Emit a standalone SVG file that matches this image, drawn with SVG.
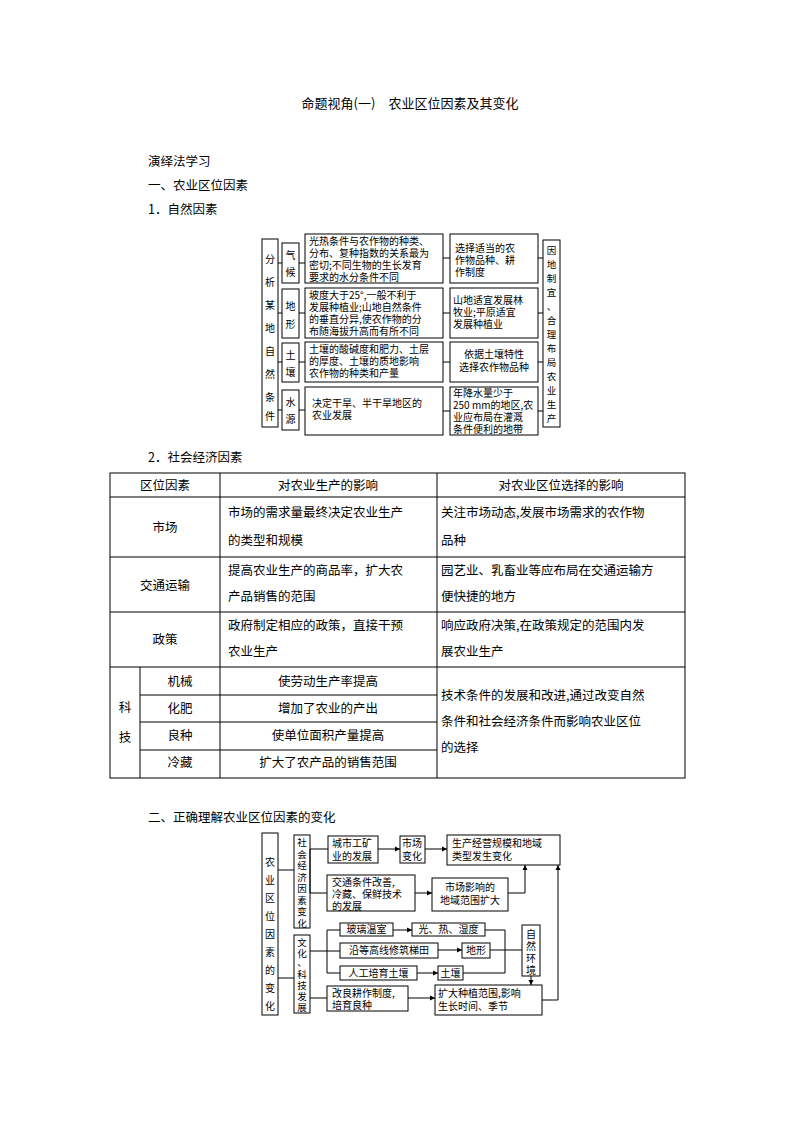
<svg xmlns="http://www.w3.org/2000/svg" width="794" height="1123" viewBox="0 0 794 1123">
<style>
text{font-family:"Noto Sans CJK SC","Noto Sans CJK JP",sans-serif;fill:#000}
.b{fill:#fff;stroke:#000;stroke-width:1}
.s{font-size:10px}
.v{font-size:9.5px}
.t{font-size:12.5px}
.l{stroke:#000;stroke-width:1;fill:none}
.a{stroke:#000;stroke-width:1;fill:none;marker-end:url(#ar)}
</style>
<defs><marker id="ar" markerWidth="6" markerHeight="6" refX="5" refY="3" orient="auto" markerUnits="userSpaceOnUse"><path d="M0,0.5 L5,3 L0,5.5Z" fill="#000"/></marker></defs>
<rect width="794" height="1123" fill="#fff"/>
<text x="410" y="108" text-anchor="middle" style="font-size:13px">命题视角(一)　农业区位因素及其变化</text>
<text x="148" y="166" class="t">演绎法学习</text>
<text x="148" y="190" class="t">一、农业区位因素</text>
<text x="148" y="214" class="t">1．自然因素</text>

<g id="d1">
<g id="d1-left"><rect class="b" x="262" y="239" width="16" height="188"/>
<text class="s" text-anchor="middle"><tspan x="270" y="263">分</tspan><tspan x="270" y="286">析</tspan><tspan x="270" y="309">某</tspan><tspan x="270" y="332">地</tspan><tspan x="270" y="355">自</tspan><tspan x="270" y="378">然</tspan><tspan x="270" y="401">条</tspan><tspan x="270" y="420">件</tspan></text></g>
<g id="d1-qh"><rect class="b" x="282" y="243" width="17" height="40"/><text class="s" text-anchor="middle"><tspan x="290.5" y="259">气</tspan><tspan x="290.5" y="276">候</tspan></text></g>
<g id="d1-dx"><rect class="b" x="282" y="289" width="17" height="49"/><text class="s" text-anchor="middle"><tspan x="290.5" y="310">地</tspan><tspan x="290.5" y="328">形</tspan></text></g>
<g id="d1-tr"><rect class="b" x="282" y="343" width="17" height="39"/><text class="s" text-anchor="middle"><tspan x="290.5" y="359">土</tspan><tspan x="290.5" y="376">壤</tspan></text></g>
<g id="d1-sy"><rect class="b" x="282" y="390" width="17" height="40"/><text class="s" text-anchor="middle"><tspan x="290.5" y="406">水</tspan><tspan x="290.5" y="423">源</tspan></text></g>
<g id="d1-m1"><rect class="b" x="305" y="234" width="138" height="49"/><text class="s"><tspan x="309" y="245">光热条件与农作物的种类、</tspan><tspan x="309" y="257">分布、复种指数的关系最为</tspan><tspan x="309" y="269">密切;不同生物的生长发育</tspan><tspan x="309" y="281">要求的水分条件不同</tspan></text></g>
<g id="d1-m2"><rect class="b" x="305" y="288" width="138" height="50"/><text class="s"><tspan x="309" y="299">坡度大于25°,一般不利于</tspan><tspan x="309" y="311">发展种植业;山地自然条件</tspan><tspan x="309" y="323">的垂直分异,使农作物的分</tspan><tspan x="309" y="335">布随海拔升高而有所不同</tspan></text></g>
<g id="d1-m3"><rect class="b" x="305" y="342" width="138" height="40"/><text class="s"><tspan x="309" y="353">土壤的酸碱度和肥力、土层</tspan><tspan x="309" y="365">的厚度、土壤的质地影响</tspan><tspan x="309" y="377">农作物的种类和产量</tspan></text></g>
<g id="d1-m4"><rect class="b" x="305" y="387" width="138" height="48"/><text class="s"><tspan x="312" y="407">决定干旱、半干旱地区的</tspan><tspan x="312" y="419">农业发展</tspan></text></g>
<g id="d1-r1"><rect class="b" x="450" y="234" width="88" height="49"/><text class="s"><tspan x="455" y="252">选择适当的农</tspan><tspan x="455" y="264">作物品种、耕</tspan><tspan x="455" y="276">作制度</tspan></text></g>
<g id="d1-r2"><rect class="b" x="450" y="288" width="88" height="50"/><text class="s"><tspan x="453" y="304">山地适宜发展林</tspan><tspan x="453" y="316">牧业;平原适宜</tspan><tspan x="453" y="328">发展种植业</tspan></text></g>
<g id="d1-r3"><rect class="b" x="450" y="342" width="88" height="40"/><text class="s" text-anchor="middle"><tspan x="494" y="358">依据土壤特性</tspan><tspan x="494" y="371">选择农作物品种</tspan></text></g>
<g id="d1-r4"><rect class="b" x="450" y="387" width="88" height="48"/><text class="s"><tspan x="453" y="397">年降水量少于</tspan><tspan x="453" y="409">250 mm的地区,农</tspan><tspan x="453" y="421">业应布局在灌溉</tspan><tspan x="453" y="433">条件便利的地带</tspan></text></g>
<g id="d1-right"><rect class="b" x="543" y="240" width="17" height="187"/>
<text class="v" text-anchor="middle"><tspan x="551.5" y="254">因</tspan><tspan x="551.5" y="268">地</tspan><tspan x="551.5" y="282">制</tspan><tspan x="551.5" y="296">宜</tspan><tspan x="551.5" y="310">、</tspan><tspan x="551.5" y="324">合</tspan><tspan x="551.5" y="338">理</tspan><tspan x="551.5" y="352">布</tspan><tspan x="551.5" y="366">局</tspan><tspan x="551.5" y="380">农</tspan><tspan x="551.5" y="394">业</tspan><tspan x="551.5" y="408">生</tspan><tspan x="551.5" y="422">产</tspan></text></g>
<g id="d1-conn">
<path class="l" d="M278,263H282M278,313H282M278,362H282M278,410H282M299,263H305M299,313H305M299,362H305M299,410H305M443,258H450M443,313H450M443,362H450M443,411H450M538,258H543M538,313H543M538,362H543M538,411H543"/>
</g>
</g>

<text x="148" y="462" class="t">2．社会经济因素</text>
<g id="table">
<rect x="110" y="473" width="575" height="305" fill="none" stroke="#000"/>
<path class="l" d="M110,497H685M110,557H685M110,612H685M110,667H685M220,473V778M437,473V778M140,667V778M140,695H437M140,722H437M140,750H437"/>
<g class="t">
<text x="165" y="490" text-anchor="middle">区位因素</text>
<text x="328" y="490" text-anchor="middle">对农业生产的影响</text>
<text x="561" y="490" text-anchor="middle">对农业区位选择的影响</text>
<text x="165" y="532" text-anchor="middle">市场</text>
<text x="228" y="517">市场的需求量最终决定农业生产</text><text x="228" y="545">的类型和规模</text>
<text x="441" y="517">关注市场动态,发展市场需求的农作物</text><text x="441" y="545">品种</text>
<text x="165" y="590" text-anchor="middle">交通运输</text>
<text x="228" y="575">提高农业生产的商品率，扩大农</text><text x="228" y="601">产品销售的范围</text>
<text x="441" y="575">园艺业、乳畜业等应布局在交通运输方</text><text x="441" y="601">便快捷的地方</text>
<text x="165" y="644" text-anchor="middle">政策</text>
<text x="228" y="630">政府制定相应的政策，直接干预</text><text x="228" y="656">农业生产</text>
<text x="441" y="630">响应政府决策,在政策规定的范围内发</text><text x="441" y="656">展农业生产</text>
<text x="125" y="712" text-anchor="middle">科</text><text x="125" y="742" text-anchor="middle">技</text>
<text x="180" y="686" text-anchor="middle">机械</text><text x="180" y="713" text-anchor="middle">化肥</text><text x="180" y="740" text-anchor="middle">良种</text><text x="180" y="767" text-anchor="middle">冷藏</text>
<text x="328" y="686" text-anchor="middle">使劳动生产率提高</text><text x="328" y="713" text-anchor="middle">增加了农业的产出</text><text x="328" y="740" text-anchor="middle">使单位面积产量提高</text><text x="328" y="767" text-anchor="middle">扩大了农产品的销售范围</text>
<text x="441" y="700">技术条件的发展和改进,通过改变自然</text><text x="441" y="726">条件和社会经济条件而影响农业区位</text><text x="441" y="752">的选择</text>
</g>
</g>

<text x="148" y="822" class="t">二、正确理解农业区位因素的变化</text>
<g id="d2">
<g id="n-left"><rect class="b" x="262" y="833" width="16" height="182"/><text class="s" text-anchor="middle"><tspan x="270" y="866">农</tspan><tspan x="270" y="884">业</tspan><tspan x="270" y="902">区</tspan><tspan x="270" y="920">位</tspan><tspan x="270" y="938">因</tspan><tspan x="270" y="956">素</tspan><tspan x="270" y="974">的</tspan><tspan x="270" y="992">变</tspan><tspan x="270" y="1010">化</tspan></text></g>
<g id="n-sh"><rect class="b" x="294" y="835" width="16" height="93"/><text class="v" text-anchor="middle"><tspan x="302" y="846">社</tspan><tspan x="302" y="857.5">会</tspan><tspan x="302" y="869">经</tspan><tspan x="302" y="880.5">济</tspan><tspan x="302" y="892">因</tspan><tspan x="302" y="903.5">素</tspan><tspan x="302" y="915">变</tspan><tspan x="302" y="926.5">化</tspan></text></g>
<g id="n-wh"><rect class="b" x="294" y="935" width="16" height="78"/><text class="v" text-anchor="middle"><tspan x="302" y="946">文</tspan><tspan x="302" y="957">化</tspan><tspan x="302" y="966">、</tspan><tspan x="302" y="978">科</tspan><tspan x="302" y="989">技</tspan><tspan x="302" y="1000">发</tspan><tspan x="302" y="1011">展</tspan></text></g>
<g id="n-cs"><rect class="b" x="328" y="836" width="50" height="27"/><text class="s"><tspan x="332" y="847">城市工矿</tspan><tspan x="332" y="860">业的发展</tspan></text></g>
<g id="n-sc"><rect class="b" x="400" y="836" width="25" height="27"/><text class="s"><tspan x="402" y="847">市场</tspan><tspan x="402" y="860">变化</tspan></text></g>
<g id="n-scjy"><rect class="b" x="447" y="835" width="113" height="30"/><text class="s"><tspan x="452" y="847">生产经营规模和地域</tspan><tspan x="452" y="860">类型发生变化</tspan></text></g>
<g id="n-jt"><rect class="b" x="327" y="875" width="88" height="36"/><text class="s"><tspan x="332" y="886">交通条件改善,</tspan><tspan x="332" y="898">冷藏、保鲜技术</tspan><tspan x="332" y="910">的发展</tspan></text></g>
<g id="n-scyx"><rect class="b" x="432" y="878" width="76" height="33"/><text class="s" text-anchor="middle"><tspan x="470" y="891">市场影响的</tspan><tspan x="470" y="904">地域范围扩大</tspan></text></g>
<g id="n-bl"><rect class="b" x="340" y="923" width="53" height="13"/><text class="s" x="366.5" y="933" text-anchor="middle">玻璃温室</text></g>
<g id="n-g"><rect class="b" x="412" y="923" width="73" height="13"/><text class="s" x="448.5" y="933" text-anchor="middle">光、热、湿度</text></g>
<g id="n-yd"><rect class="b" x="340" y="943" width="98" height="15"/><text class="s" x="389" y="954" text-anchor="middle">沿等高线修筑梯田</text></g>
<g id="n-dx"><rect class="b" x="462" y="943" width="28" height="15"/><text class="s" x="476" y="954" text-anchor="middle">地形</text></g>
<g id="n-rg"><rect class="b" x="340" y="966" width="77" height="14"/><text class="s" x="378.5" y="977" text-anchor="middle">人工培育土壤</text></g>
<g id="n-tr"><rect class="b" x="438" y="966" width="25" height="14"/><text class="s" x="450.5" y="977" text-anchor="middle">土壤</text></g>
<g id="n-zr"><rect class="b" x="522" y="925" width="18" height="51"/><text class="s" text-anchor="middle"><tspan x="531" y="938">自</tspan><tspan x="531" y="950">然</tspan><tspan x="531" y="962">环</tspan><tspan x="531" y="974">境</tspan></text></g>
<g id="n-gl"><rect class="b" x="327" y="986" width="81" height="25"/><text class="s"><tspan x="332" y="997">改良耕作制度,</tspan><tspan x="332" y="1009">培育良种</tspan></text></g>
<g id="n-kd"><rect class="b" x="435" y="985" width="107" height="30"/><text class="s"><tspan x="438" y="997">扩大种植范围,影响</tspan><tspan x="438" y="1010">生长时间、季节</tspan></text></g>
<g id="connectors">
<path class="l" d="M278,870H294M278,978H294M310,849H328M310,849V893H327M310,951H340M327,930V973M327,930H340M327,973H340M310,998H327M485,930H505V973H463M490,950H522"/>
<path class="a" d="M378,849H400"/><path class="a" d="M425,849H447"/><path class="a" d="M415,893H432"/>
<path class="a" d="M508,893H525V865"/><path class="a" d="M393,930H412"/><path class="a" d="M438,950H462"/>
<path class="a" d="M417,973H438"/><path class="a" d="M531,976V985"/><path class="a" d="M408,998H435"/>
<path class="a" d="M542,1000H558V865"/>
</g>
</g>
</svg>
